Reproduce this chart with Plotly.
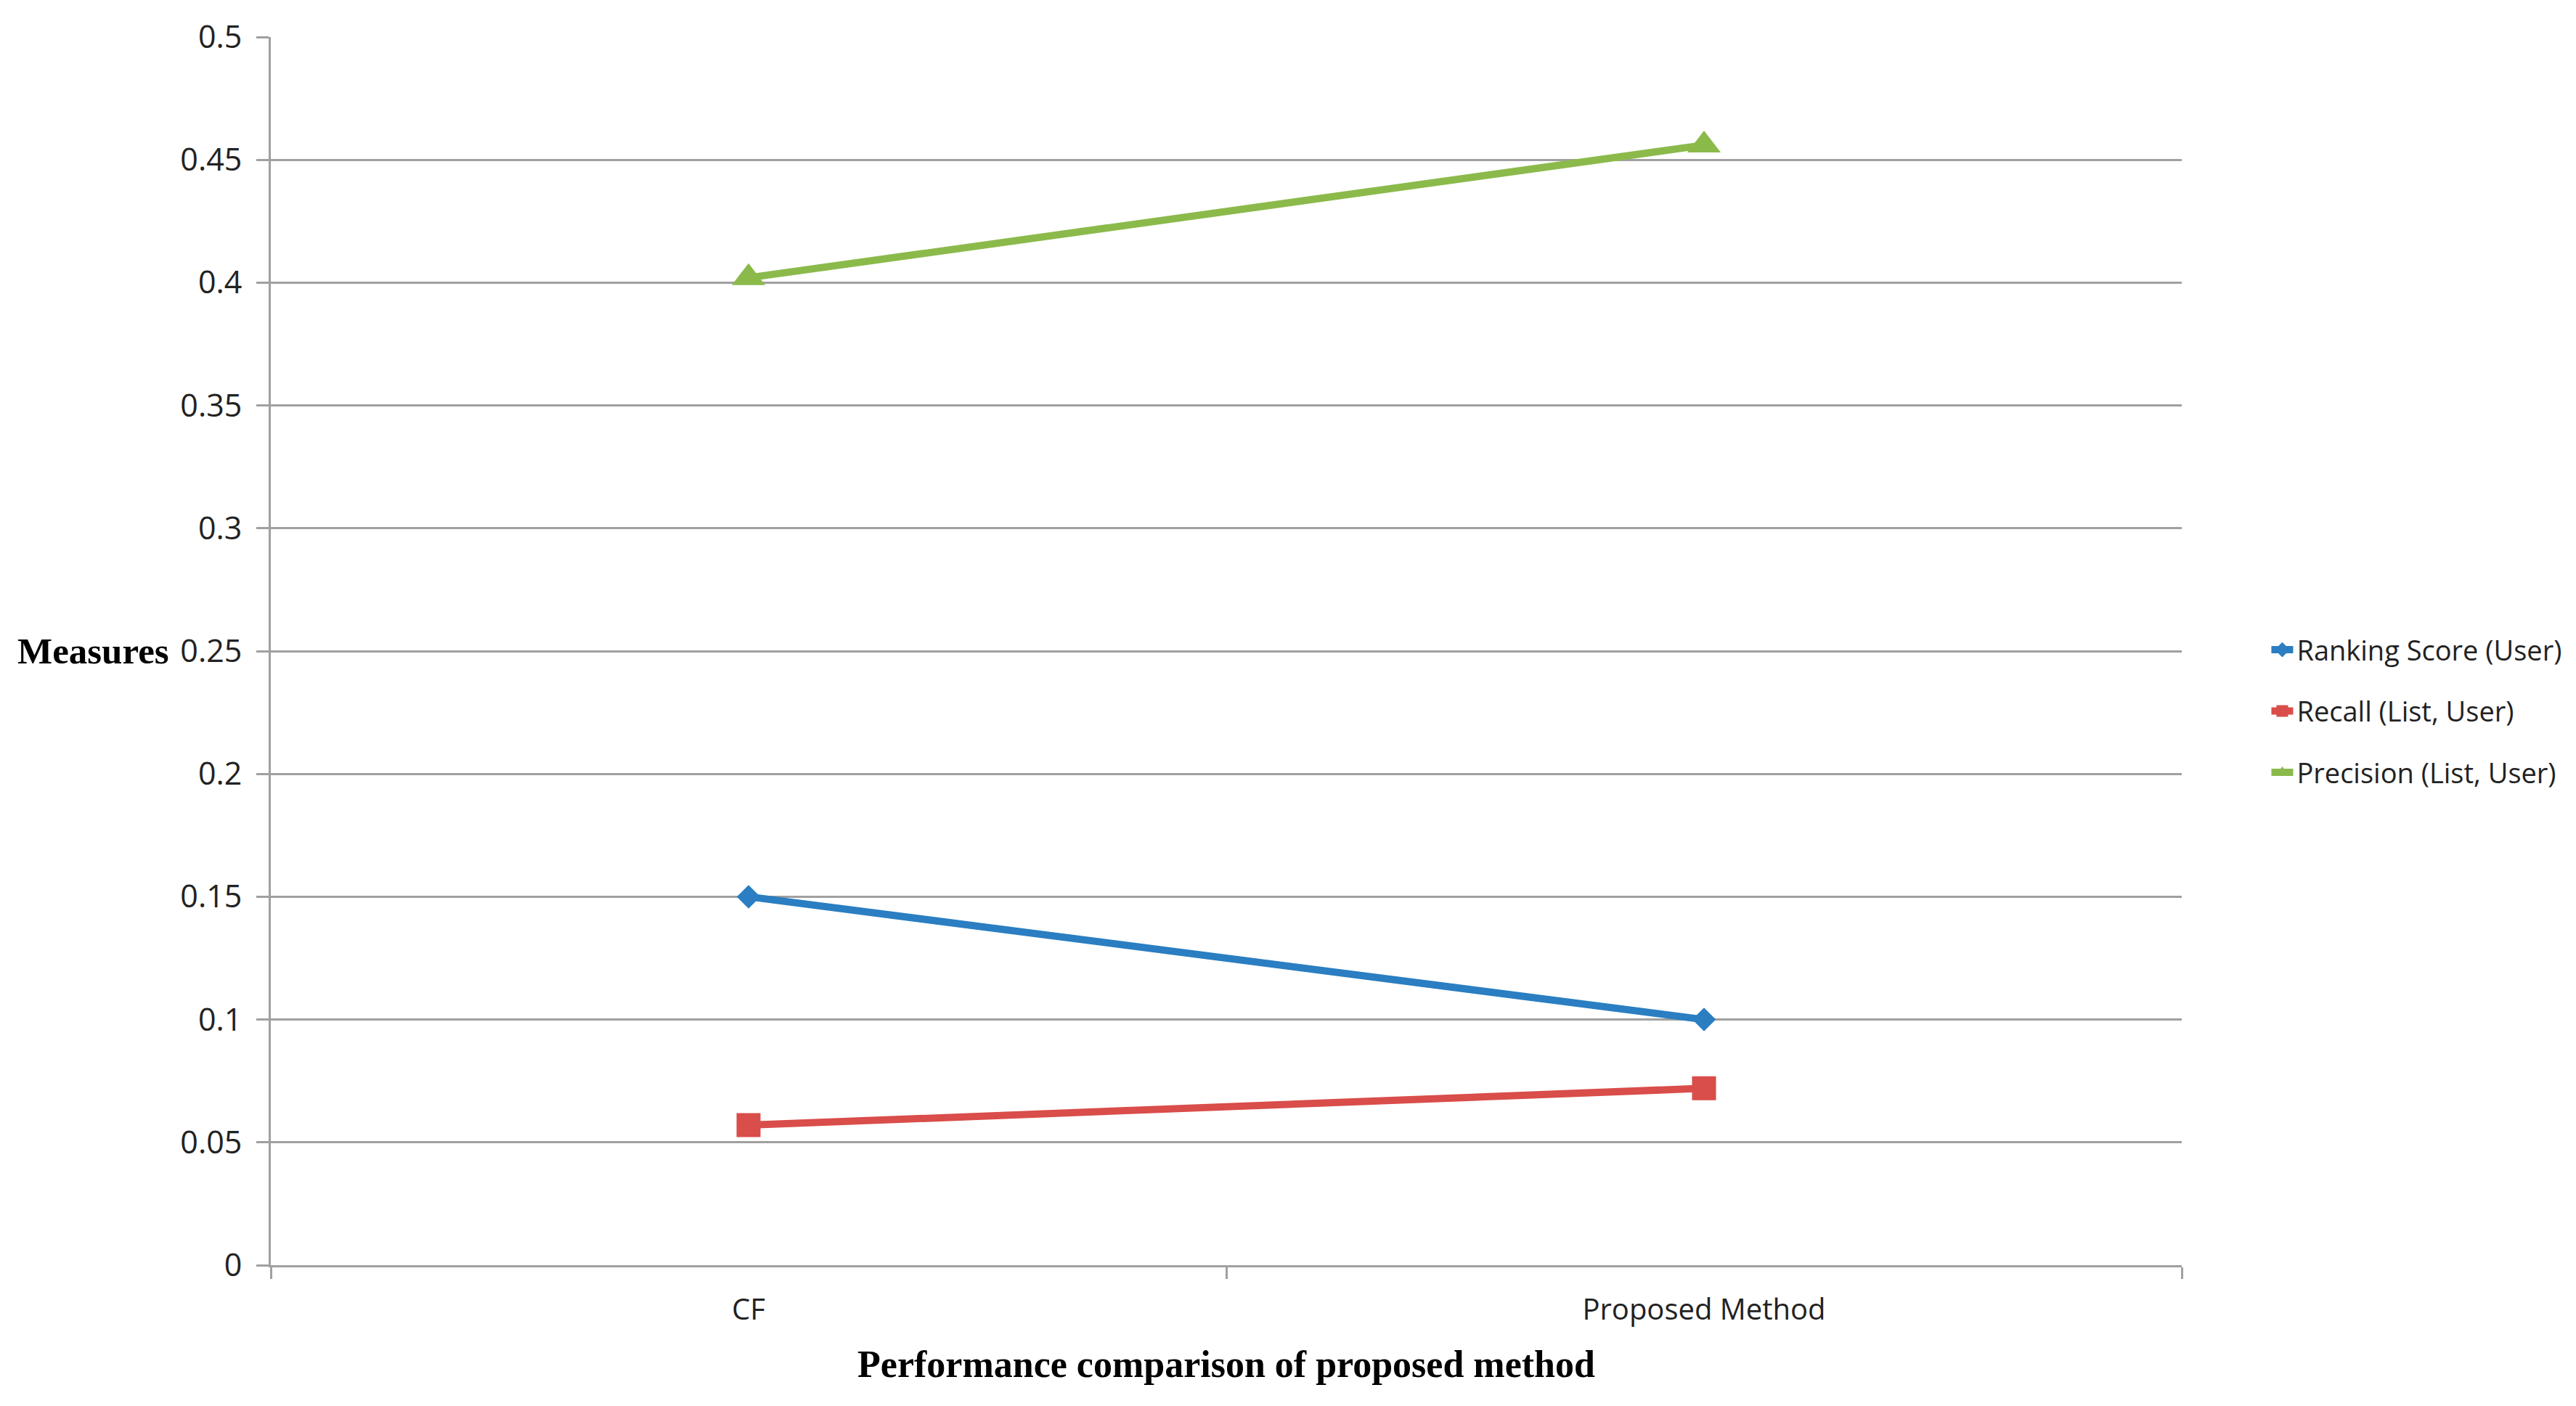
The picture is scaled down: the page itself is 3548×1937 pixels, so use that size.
import plotly.graph_objects as go

categories = ["CF", "Proposed Method"]
ranking_score = [0.150, 0.100]
recall = [0.057, 0.072]
precision = [0.402, 0.456]
y_tick_vals = [0, 0.05, 0.1, 0.15, 0.2, 0.25, 0.3, 0.35, 0.4, 0.45, 0.5]
y_tick_text = ["0", "0.05", "0.1", "0.15", "0.2", "0.25", "0.3", "0.35", "0.4", "0.45", "0.5"]

series = [
    ("Ranking Score (User)", ranking_score, "#2A7EC1", "diamond", 25),
    ("Recall (List, User)", recall, "#D94D4A", "square", 33),
    ("Precision (List, User)", precision, "#8BBA4B", "triangle-up", 40),
]

font_family = "Open Sans, sans-serif"

fig = go.Figure()
for i, (name, vals, color, sym, msize) in enumerate(series):
    fig.add_trace(go.Scatter(
        x=categories, y=vals, name=name, mode="lines+markers",
        line=dict(color=color, width=10),
        marker=dict(symbol=sym, size=msize, color=color),
        legendgroup=f"g{i}",
    ))

fig.update_layout(
    width=3548, height=1937,
    margin=dict(l=365, r=551, t=39, b=202),
    paper_bgcolor="white", plot_bgcolor="white",
    showlegend=True,
    legend=dict(
        x=1.045, xanchor="left", y=0.451, yanchor="middle",
        font=dict(family=font_family, size=38, color="#222222"),
        traceorder="grouped", tracegroupgap=32,
        bgcolor="rgba(0,0,0,0)",
    ),
    xaxis=dict(
        type="category", range=[-0.5, 1.5],
        showgrid=False, showline=True, linecolor="#A0A0A0", linewidth=3,
        ticks="outside", tickson="boundaries", ticklen=16, tickwidth=3, tickcolor="#A0A0A0",
        tickfont=dict(family=font_family, size=40, color="#222222"),
        ticklabelstandoff=24,
        title=dict(text="<b>Performance comparison of proposed method</b>",
                   font=dict(family="Liberation Serif, serif", size=52, color="black"),
                   standoff=32),
    ),
    yaxis=dict(
        range=[0, 0.5], tickvals=y_tick_vals, ticktext=y_tick_text,
        showgrid=True, gridcolor="#A0A0A0", gridwidth=3,
        showline=True, linecolor="#A0A0A0", linewidth=3,
        ticks="outside", ticklen=17, tickwidth=3, tickcolor="#A0A0A0",
        tickfont=dict(family=font_family, size=43, color="#222222"),
        ticklabelstandoff=11, zeroline=False,
    ),
    annotations=[dict(
        text="<b>Measures</b>", xref="paper", yref="y", x=-0.1334, y=0.25,
        xanchor="left", yanchor="middle", showarrow=False,
        font=dict(family="Liberation Serif, serif", size=51, color="black"),
    )],
)

fig.write_html("out.html")
